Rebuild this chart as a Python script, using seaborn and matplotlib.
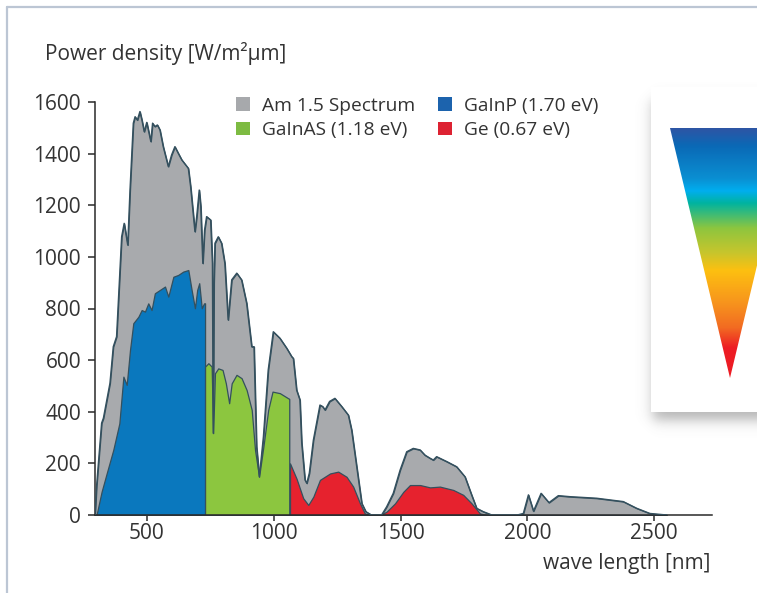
import numpy as np
import matplotlib
matplotlib.use('Agg')
import matplotlib.pyplot as plt
import seaborn as sns
from matplotlib.patches import Patch, Rectangle, Polygon
from matplotlib.colors import LinearSegmentedColormap

# AM 1.5 spectrum envelope (nm, W/m2um)
wl_am15 = [295, 301, 321, 328, 354, 367, 380, 400, 410, 424, 433, 446, 453, 462, 472, 480, 489, 499,
           515, 522, 531, 541, 551, 564, 584, 597, 610, 623, 637, 663, 672, 689, 696, 706, 712, 720,
           727, 735, 751, 758, 761, 764, 768, 781, 794, 807, 820, 834, 854, 873, 893, 913, 922, 932,
           943, 959, 978, 998, 1024, 1051, 1071, 1077, 1090, 1103, 1110, 1123, 1130, 1140, 1156, 1182,
           1193, 1202, 1220, 1241, 1268, 1294, 1307, 1327, 1347, 1363, 1385, 1425, 1445, 1471, 1498,
           1524, 1550, 1577, 1596, 1616, 1629, 1642, 1682, 1721, 1754, 1780, 1800, 1826, 1860, 1960,
           1984, 2004, 2024, 2054, 2085, 2122, 2168, 2273, 2378, 2431, 2483, 2550]
pd_am15 = [0, 110, 356, 375, 511, 652, 691, 1078, 1130, 1046, 1259, 1518, 1543, 1530, 1563, 1530, 1485, 1521,
           1447, 1518, 1505, 1511, 1492, 1427, 1350, 1395, 1427, 1402, 1376, 1343, 1272, 1098, 1156, 1259, 1195, 975,
           1104, 1156, 1143, 975, 317, 900, 1053, 1078, 1053, 975, 756, 911, 937, 911, 820, 652, 652, 265,
           148, 303, 562, 710, 685, 646, 613, 607, 484, 446, 280, 136, 123, 162, 290, 426,
           420, 407, 440, 452, 420, 387, 329, 187, 45, 13, 0, 0, 32, 84, 174,
           245, 258, 252, 232, 220, 213, 226, 207, 187, 148, 78, 26, 13, 0, 0,
           6, 78, 15, 84, 48, 75, 71, 65, 52, 26, 6, 0]

# GaInP top cell
wl_gainp = [301, 321, 341, 367, 391, 407, 420, 433, 446, 466, 479, 492, 505, 518, 531, 551, 571, 584,
            604, 623, 643, 663, 676, 689, 698, 706, 716, 725, 729]
pd_gainp = [0, 90, 161, 252, 355, 536, 504, 639, 743, 768, 794, 788, 820, 794, 859, 872, 885, 846,
            923, 930, 943, 949, 872, 801, 872, 898, 801, 820, 820]

# GaInAs middle cell
wl_gainas = [729, 742, 755, 761, 768, 781, 798, 811, 824, 834, 853, 873, 893, 913, 926, 942, 959, 978,
             995, 1024, 1057, 1061]
pd_gainas = [575, 588, 575, 317, 549, 568, 562, 510, 433, 510, 543, 530, 484, 407, 252, 148, 265, 407,
             478, 472, 452, 450]

# Ge bottom cell
wl_ge = [1064, 1090, 1116, 1136, 1156, 1182, 1222, 1254, 1287, 1313, 1340, 1359, 1379, 1419, 1445, 1478,
         1511, 1537, 1577, 1616, 1655, 1708, 1747, 1780, 1813, 1839]
pd_ge = [200, 140, 65, 39, 71, 136, 161, 168, 148, 110, 45, 6, 0, 0, 13, 45,
         90, 116, 116, 107, 110, 97, 78, 45, 6, 0]

series = [
    ('Am 1.5 Spectrum', wl_am15, pd_am15, '#a8aaad', '#a7a9ac'),
    ('GaInP (1.70 eV)', wl_gainp, pd_gainp, '#0a78be', '#1c63ad'),
    ('GaInAS (1.18 eV)', wl_gainas, pd_gainas, '#8cc63f', '#7dbb42'),
    ('Ge (0.67 eV)', wl_ge, pd_ge, '#e6222e', '#dd2232'),
]

sns.set_style('ticks')
plt.rcParams['font.family'] = ['Open Sans', 'DejaVu Sans']
txt = '#333333'
edge = '#34505e'
fs = 15

W, H = 757, 593
fig = plt.figure(figsize=(W / 100, H / 100), dpi=100)
fig.patch.set_facecolor('white')
ax = fig.add_axes([95 / W, 1 - 515 / H, (712 - 95) / W, (515 - 102) / H])

for name, x, y, fc, lc in series:
    ax.fill_between(x, 0, y, facecolor=fc, edgecolor=edge, linewidth=0.9, zorder=2)
sns.lineplot(x=wl_am15, y=pd_am15, ax=ax, color=edge, linewidth=1.0, estimator=None, sort=False, zorder=3)

ax.set_xlim(295, 2728)
ax.set_ylim(0, 1600)
ax.set_xticks([500, 1000, 1500, 2000, 2500])
ax.set_yticks(range(0, 1601, 200))
ax.set_xlabel('')
ax.set_ylabel('')
sns.despine(ax=ax)
for s in ['left', 'bottom']:
    ax.spines[s].set_color('#2a2a2a')
    ax.spines[s].set_linewidth(1.1)
ax.tick_params(axis='y', length=5, width=1.1, color='#2a2a2a', labelsize=fs, labelcolor=txt, pad=5)
ax.tick_params(axis='x', length=4, width=1.1, color='#2a2a2a', labelsize=fs, labelcolor=txt, pad=2)

# legend fills row by row in the original: Am 1.5 / GaInP, then GaInAs / Ge
order = [0, 2, 1, 3]
handles = [Patch(facecolor=series[i][4], edgecolor='none', label=series[i][0]) for i in order]
ax.legend(handles=handles, ncol=2, loc='upper left', bbox_to_anchor=((236 - 95) / 617, (515 - 97) / 413),
          frameon=False, fontsize=13.8, labelcolor=txt, handlelength=0.73, handleheight=0.73,
          handletextpad=0.62, columnspacing=1.2, labelspacing=0.32, borderpad=0, borderaxespad=0)

fig.text(45 / W, 1 - 60 / H, 'Power density [W/m²µm]', fontsize=fs, color=txt, va='baseline', ha='left')
fig.text(710 / W, 1 - 569 / H, 'wave length [nm]', fontsize=fs, color=txt, va='baseline', ha='right')

# decorative overlay in pixel coordinates: frame, inset box with shadow, rainbow wedge
ov = fig.add_axes([0, 0, 1, 1], zorder=5)
ov.set_axis_off()
ov.patch.set_alpha(0)

def phi(z):
    return 0.5 * (1 + np.tanh(0.9 * z))

gx, gy = np.meshgrid(np.arange(620, 758) + 0.5, np.arange(70, 460) + 0.5)
bx0, bx1, by0, by1, s = 653, 800, 100, 420, 7.0
alpha = 0.45 * (phi((gx - bx0) / s) - phi((gx - bx1) / s)) * (phi((gy - by0) / s) - phi((gy - by1) / s))
shadow = np.zeros(gx.shape + (4,))
shadow[..., :3] = 0.35
shadow[..., 3] = alpha
ov.imshow(shadow, extent=(620, 758, 460, 70), origin='upper', aspect='auto', interpolation='bilinear', zorder=1)
ov.add_patch(Rectangle((651, 87), 120, 325, facecolor='white', edgecolor='none', zorder=2))

stops = [(0.0, '#2d55a4'), (0.07, '#0a69b6'), (0.2, '#0a8fd2'), (0.25, '#00aeef'), (0.3, '#00b3a0'),
         (0.4, '#8dc63f'), (0.5, '#c8c52c'), (0.57, '#fdc010'), (0.7, '#f7941d'), (0.8, '#f26b22'),
         (0.88, '#ed1c24'), (1.0, '#ed1c24')]
rainbow = LinearSegmentedColormap.from_list('wedge', stops)
grad = np.linspace(0, 1, 256)[:, None]
im = ov.imshow(grad, cmap=rainbow, extent=(670, 790, 378, 128), origin='upper', aspect='auto', zorder=3)
tri = Polygon([(670, 128), (790, 128), (730, 378)], closed=True, transform=ov.transData)
im.set_clip_path(tri)

ov.plot([7, 7], [7, 593], color='#bcc6d4', linewidth=1.6, zorder=4)
ov.plot([7, 757], [7, 7], color='#bcc6d4', linewidth=1.6, zorder=4)
ov.set_xlim(0, W)
ov.set_ylim(H, 0)

fig.savefig('out.png', dpi=100, facecolor='white')
